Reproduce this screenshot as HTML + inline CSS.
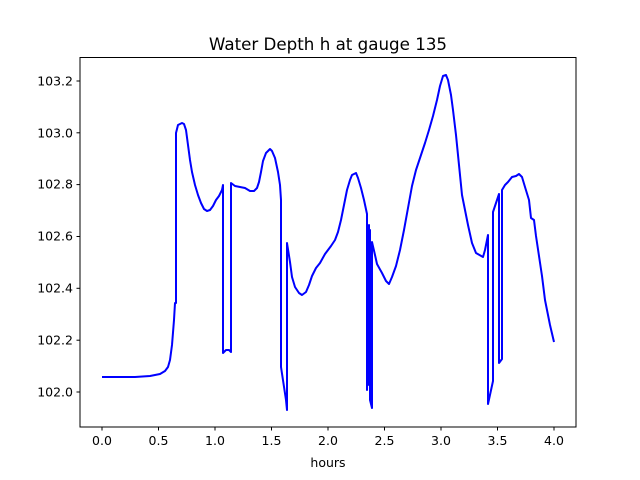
<!DOCTYPE html>
<html><head><meta charset="utf-8"><style>body{margin:0;background:#fff}svg{display:block}text{font-family:"DejaVu Sans","Liberation Sans",sans-serif;font-size:12.5px;fill:#000}</style></head>
<body>
<svg width="640" height="480" viewBox="0 0 640 480">
<rect width="640" height="480" fill="#fff"/>
<text x="328" y="50" text-anchor="middle" style="font-size:16.7px">Water Depth h at gauge 135</text>
<polyline fill="none" stroke="#0000ff" stroke-width="2" stroke-linejoin="round" points="102,377 135,377 150,376 160,374 165,371 168,367 170,360 172,345 174,320 175,303 176,303 176,133 178,125 182,123 184,124 186,130 188,145 190,160 192,172 195,185 198,195 201,203 204,209 207,211 210,210 213,206 216,200 219,196 222,190 223,185 223,353 226,350 229,350 231,352 231,183 235,186 240,187 245,188 250,191 254,191 257,188 259,182 261,172 263,161 266,153 270,149 272,151 275,158 278,172 280,185 281,200 281,367 286,400 287,410 287,243 290,262 292,277 295,287 299,293 302,295 306,292 309,285 312,276 316,268 320,263 325,254 331,246 335,240 338,232 341,220 344,205 347,190 350,180 352,175 356,173 358,178 361,188 364,200 367,214 367,390 369,225 369,385 370,230 370,400 372,408 372,242 375,255 377,264 382,273 386,281 389,284 392,277 396,266 400,250 404,230 408,208 412,186 416,170 420,158 425,143 429,130 433,116 437,100 440,86 443,76 446,75 448,80 451,95 453,110 456,135 459,165 462,195 465,210 468,225 472,243 476,253 483,257 485,250 488,235 488,404 493,381 493,212 497,200 499,194 499,363 502,359 502,190 505,185 508,182 512,177 516,176 519,174 522,177 525,187 529,200 531,218 534,220 536,236 539,256 542,276 545,300 550,325 554,342"/>
<rect x="80" y="57.5" width="496" height="369.5" fill="none" stroke="#000" stroke-width="1"/>
<g stroke="#000" stroke-width="1">
<line x1="102" y1="427" x2="102" y2="430.5"/><line x1="158.5" y1="427" x2="158.5" y2="430.5"/><line x1="215" y1="427" x2="215" y2="430.5"/><line x1="271.5" y1="427" x2="271.5" y2="430.5"/><line x1="328" y1="427" x2="328" y2="430.5"/><line x1="384.5" y1="427" x2="384.5" y2="430.5"/><line x1="441" y1="427" x2="441" y2="430.5"/><line x1="497.5" y1="427" x2="497.5" y2="430.5"/><line x1="554" y1="427" x2="554" y2="430.5"/>
<line x1="76.5" y1="392" x2="80" y2="392"/><line x1="76.5" y1="340.2" x2="80" y2="340.2"/><line x1="76.5" y1="288.3" x2="80" y2="288.3"/><line x1="76.5" y1="236.5" x2="80" y2="236.5"/><line x1="76.5" y1="184.6" x2="80" y2="184.6"/><line x1="76.5" y1="132.8" x2="80" y2="132.8"/><line x1="76.5" y1="81" x2="80" y2="81"/>
</g>
<g text-anchor="middle">
<text x="102" y="445">0.0</text><text x="158.5" y="445">0.5</text><text x="215" y="445">1.0</text><text x="271.5" y="445">1.5</text><text x="328" y="445">2.0</text><text x="384.5" y="445">2.5</text><text x="441" y="445">3.0</text><text x="497.5" y="445">3.5</text><text x="554" y="445">4.0</text>
<text x="328" y="467">hours</text>
</g>
<g text-anchor="end">
<text x="73" y="396.5">102.0</text><text x="73" y="344.5">102.2</text><text x="73" y="292.5">102.4</text><text x="73" y="240.5">102.6</text><text x="73" y="188.5">102.8</text><text x="73" y="137.5">103.0</text><text x="73" y="85.5">103.2</text>
</g>
</svg>
</body></html>
